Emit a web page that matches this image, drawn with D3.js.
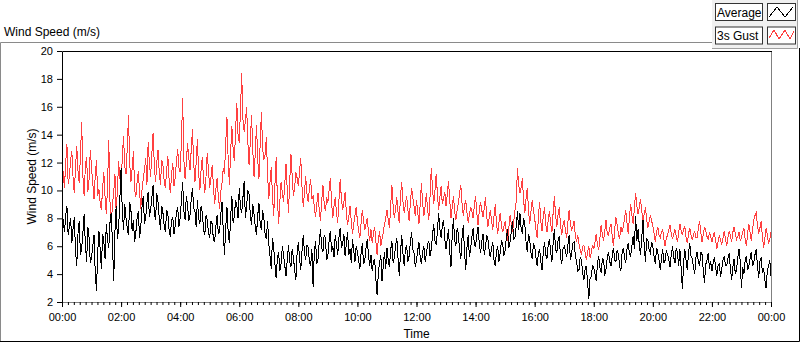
<!DOCTYPE html>
<html>
<head>
<meta charset="utf-8">
<script src="https://cdn.jsdelivr.net/npm/d3@7"></script>
<style>
  body { margin: 0; background: #fff; }
  text { font-family: "Liberation Sans", Arial, sans-serif; fill: #000; }
</style>
</head>
<body>
<svg id="chart" width="800" height="342"></svg>
<script>
// samples every 2.5 minutes, 00:00 -> 00:00 next day (one row = 30 min)
const stepMinutes = 2.5;
const seriesNames = ["Average", "3s Gust"];
const seriesColors = ["#000000", "#ff4040"];
const yTicks = [2, 4, 6, 8, 10, 12, 14, 16, 18, 20];

const average = [
  8.6, 7.8, 7.0, 8.2, 8.9, 6.8, 7.4, 8.0, 6.2, 7.3, 8.1, 5.6,
  4.6, 6.9, 7.8, 5.4, 5.9, 7.0, 8.3, 6.1, 4.9, 7.4, 6.6, 4.8,
  5.2, 6.0, 6.8, 4.1, 2.8, 5.5, 7.1, 5.8, 4.4, 6.9, 6.3, 5.1,
  7.6, 6.4, 5.9, 7.7, 8.4, 6.2, 3.5, 7.0, 8.9, 6.5, 7.3, 9.4,
  11.6, 8.4, 7.2, 9.0, 8.0, 7.3, 6.8, 9.2, 8.6, 7.1, 7.9, 6.3,
  7.0, 8.0, 8.5, 6.6, 7.4, 8.8, 9.6, 7.6, 8.0, 9.1, 9.9, 8.1,
  8.6, 9.5, 10.4, 8.3, 7.9, 9.8, 9.2, 8.0, 7.2, 8.9, 8.4, 7.5,
  7.0, 8.6, 8.3, 7.2, 6.7, 7.9, 8.1, 6.9, 7.5, 8.4, 8.8, 7.4,
  8.0, 9.3, 10.6, 8.5, 7.9, 9.6, 9.0, 7.8, 8.2, 9.4, 10.2, 8.7,
  8.5, 7.4, 9.3, 8.0, 7.6, 8.9, 8.4, 7.2, 6.8, 8.2, 7.9, 7.0,
  6.6, 7.8, 7.6, 6.5, 6.3, 7.4, 8.2, 6.9, 7.0, 8.3, 9.2, 7.1,
  5.4, 7.3, 8.8, 7.0, 6.2, 8.0, 9.6, 7.7, 8.1, 9.3, 9.0, 8.0,
  10.2, 8.8, 8.4, 9.5, 10.7, 8.0, 8.9, 10.0, 9.7, 8.2, 7.5, 9.0,
  8.3, 7.4, 6.8, 8.2, 9.1, 7.6, 7.2, 8.6, 8.0, 6.9, 6.5, 7.8,
  6.2, 5.3, 4.4, 6.6, 5.9, 4.7, 3.7, 5.2, 5.6, 4.2, 4.8, 6.0,
  5.4, 4.6, 3.9, 5.0, 6.1, 4.9, 4.5, 5.8, 5.2, 4.3, 3.6, 5.5,
  6.3, 5.1, 4.3, 5.7, 6.8, 5.5, 5.0, 6.1, 5.9, 4.9, 4.6, 5.8,
  3.1, 5.6, 6.4, 4.7, 5.1, 6.3, 7.2, 5.9, 5.6, 6.8, 6.6, 5.0,
  5.3, 6.4, 7.1, 5.6, 6.0, 5.2, 6.8, 6.1, 5.4, 6.6, 7.3, 5.9,
  6.1, 6.9, 5.3, 6.2, 7.0, 5.4, 5.8, 4.8, 6.5, 5.7, 4.9, 6.0,
  5.6, 5.0, 4.4, 5.5, 6.2, 4.7, 5.0, 5.9, 6.5, 5.3, 4.6, 5.4,
  4.2, 4.9, 5.1, 3.6, 2.5, 4.1, 4.8, 5.4, 3.5, 4.6, 5.6, 4.4,
  5.9, 5.0, 4.5, 5.7, 6.4, 4.8, 5.2, 6.0, 6.6, 5.1, 3.9, 5.5,
  6.8, 5.5, 4.6, 5.8, 6.1, 4.9, 5.3, 6.3, 7.0, 5.8, 5.5, 4.5,
  5.0, 5.7, 6.3, 5.2, 4.7, 5.6, 6.0, 4.9, 5.4, 6.1, 6.4, 5.3,
  5.8, 6.8, 7.6, 6.4, 6.1, 7.1, 8.4, 7.2, 6.6, 7.5, 7.9, 6.5,
  5.8, 6.5, 7.2, 5.6, 4.5, 6.8, 8.0, 6.4, 6.0, 7.3, 6.9, 5.7,
  5.1, 6.6, 7.5, 5.6, 4.3, 5.9, 6.8, 5.2, 5.8, 6.7, 7.3, 6.1,
  6.0, 6.8, 7.4, 6.2, 5.5, 6.3, 6.9, 5.4, 5.9, 6.8, 6.5, 5.7,
  5.2, 5.9, 6.3, 5.0, 4.6, 5.6, 6.0, 4.9, 5.5, 6.4, 6.2, 5.3,
  5.7, 6.6, 7.2, 5.9, 6.3, 7.0, 7.8, 6.5, 6.6, 7.4, 8.5, 7.2,
  8.4, 7.3, 6.9, 8.0, 7.6, 6.3, 5.6, 6.9, 6.4, 5.5, 5.1, 6.2,
  6.0, 5.2, 4.6, 5.5, 5.8, 4.9, 4.3, 5.6, 6.3, 5.4, 5.1, 6.1,
  6.5, 5.6, 4.9, 6.2, 7.2, 5.8, 5.5, 6.4, 6.7, 5.2, 4.7, 5.8,
  6.0, 5.7, 5.2, 6.1, 6.8, 5.0, 5.5, 6.2, 6.3, 5.4, 4.9, 4.2,
  4.3, 5.2, 5.0, 4.1, 3.6, 4.4, 4.6, 3.4, 2.2, 3.7, 3.8, 4.6,
  4.5, 4.0, 3.5, 4.7, 5.3, 4.5, 4.1, 5.1, 5.0, 3.9, 4.4, 5.2,
  5.6, 4.9, 4.6, 5.3, 5.9, 5.0, 4.9, 5.7, 5.4, 4.6, 4.2, 5.5,
  5.9, 5.2, 4.8, 5.8, 6.2, 5.5, 5.3, 6.0, 6.7, 5.8, 8.2, 6.4,
  7.2, 6.1, 5.4, 6.6, 7.9, 6.0, 4.9, 6.5, 6.4, 5.7, 5.5, 6.3,
  6.0, 5.3, 4.7, 5.9, 5.6, 5.0, 4.3, 5.1, 5.8, 4.8, 5.0, 5.7,
  5.4, 5.0, 4.5, 5.4, 6.0, 5.2, 4.8, 5.9, 5.5, 4.6, 5.8, 4.4,
  2.9, 4.8, 5.8, 5.0, 4.3, 5.5, 6.2, 5.3, 5.1, 4.5, 4.0, 5.2,
  5.6, 4.9, 4.6, 5.6, 5.4, 4.2, 3.4, 4.7, 5.0, 5.5, 4.4, 4.9,
  4.2, 4.8, 5.2, 4.5, 3.9, 4.6, 4.8, 3.8, 4.4, 5.0, 5.3, 4.6,
  4.6, 5.1, 5.5, 4.4, 3.6, 4.5, 5.1, 4.0, 4.3, 5.2, 5.8, 4.9,
  3.0, 4.5, 4.0, 5.0, 5.3, 4.3, 4.6, 5.1, 5.6, 4.6, 4.8, 5.4,
  5.8, 4.6, 3.7, 4.9, 5.2, 4.1, 4.4, 3.6, 3.0, 4.2, 4.6, 5.0,
  3.9
];

const gust = [
  12.4, 11.2, 10.2, 12.0, 13.3, 10.5, 11.0, 12.2, 12.8, 10.9, 9.8, 11.7,
  13.2, 11.4, 10.5, 12.6, 14.9, 11.0, 9.6, 11.8, 12.4, 9.9, 10.8, 12.9,
  11.6, 10.5, 9.4, 11.0, 12.2, 9.6, 10.1, 9.1, 8.6, 10.2, 11.3, 9.5,
  8.3, 10.4, 13.6, 9.2, 7.6, 9.0, 9.8, 11.2, 8.4, 10.0, 12.1, 10.9,
  10.5, 12.4, 13.9, 11.7, 11.2, 13.0, 15.4, 12.0, 10.6, 11.6, 12.8, 10.1,
  9.5, 10.6, 11.4, 9.9, 8.7, 10.0, 10.8, 11.5, 12.3, 10.4, 13.5, 11.9,
  11.0, 12.6, 14.1, 11.8, 10.6, 12.0, 12.9, 11.3, 10.4, 12.2, 11.8, 10.7,
  10.2, 11.4, 12.5, 10.8, 9.8, 11.1, 12.0, 10.3, 10.9, 12.1, 13.0, 11.6,
  11.3, 13.5, 16.6, 12.2, 10.8, 12.0, 13.4, 12.3, 11.5, 12.9, 14.4, 11.9,
  10.6, 12.0, 13.7, 11.3, 10.0, 11.5, 12.4, 10.8, 9.8, 11.0, 12.7, 11.4,
  10.2, 10.9, 11.8, 10.4, 9.0, 10.1, 10.9, 9.6, 8.7, 9.9, 10.5, 11.6,
  11.2, 13.4, 15.3, 12.2, 10.4, 12.8, 14.6, 13.0, 12.1, 14.2, 16.3, 14.0,
  13.4, 15.8, 18.4, 15.1, 14.2, 15.0, 16.0, 13.5, 11.8, 13.6, 15.4, 12.9,
  11.0, 12.6, 14.7, 12.3, 10.8, 13.4, 15.6, 13.0, 12.2, 12.6, 13.8, 11.2,
  9.4, 10.6, 11.7, 9.6, 8.2, 10.4, 12.4, 9.4, 7.6, 9.2, 10.6, 9.8,
  9.2, 10.5, 11.9, 10.0, 8.4, 10.6, 12.6, 11.0, 9.6, 10.2, 11.3, 10.9,
  10.3, 11.4, 12.3, 10.2, 8.8, 9.9, 11.0, 9.8, 9.2, 10.1, 10.8, 9.4,
  9.6, 8.8, 8.1, 9.0, 9.8, 8.6, 7.8, 9.3, 10.4, 9.1, 8.5, 9.5,
  9.1, 10.0, 10.9, 9.2, 8.0, 8.9, 9.5, 8.4, 7.7, 9.3, 10.8, 9.4,
  8.6, 9.2, 9.9, 8.4, 7.5, 8.1, 8.9, 7.8, 6.9, 7.6, 8.2, 8.8,
  7.8, 7.1, 6.6, 7.7, 8.6, 7.8, 7.2, 7.6, 8.0, 7.0, 6.4, 7.2,
  6.2, 6.9, 7.4, 6.3, 5.4, 6.5, 7.1, 6.0, 6.5, 7.0, 7.6, 8.0,
  8.6, 7.9, 7.3, 8.8, 10.4, 8.9, 8.0, 8.7, 9.5, 8.4, 7.7, 9.6,
  10.6, 9.2, 8.4, 9.0, 9.6, 8.6, 7.8, 9.1, 10.2, 9.5, 8.9, 8.2,
  9.3, 8.4, 7.6, 9.0, 10.5, 9.1, 8.2, 8.9, 9.8, 8.6, 7.9, 9.6,
  11.6, 10.2, 9.0, 10.0, 11.2, 9.7, 8.6, 9.5, 10.3, 9.0, 9.4, 9.9,
  8.9, 9.7, 10.7, 9.3, 8.0, 8.8, 9.6, 8.5, 7.9, 8.6, 9.1, 9.8,
  10.4, 9.1, 8.2, 8.9, 9.3, 8.4, 7.7, 8.3, 8.8, 8.5, 8.0, 8.9,
  9.6, 8.4, 7.5, 8.5, 9.2, 8.6, 8.1, 8.7, 9.5, 8.2, 7.4, 8.0,
  8.6, 7.8, 7.2, 8.2, 9.0, 7.6, 6.9, 7.7, 8.4, 7.5, 7.0, 7.4,
  7.8, 7.0, 6.4, 7.3, 8.2, 7.6, 7.0, 7.8, 8.6, 9.2, 11.6, 10.4,
  9.8, 10.2, 10.9, 9.3, 8.4, 9.4, 10.2, 8.6, 7.6, 8.5, 9.3, 8.6,
  8.0, 7.2, 6.6, 8.0, 9.2, 7.8, 7.1, 8.2, 8.8, 7.6, 7.0, 7.9,
  8.5, 7.6, 7.0, 8.4, 9.6, 8.2, 7.4, 8.3, 8.8, 7.5, 6.8, 7.5,
  7.9, 7.1, 6.6, 7.7, 8.6, 7.6, 7.2, 7.4, 7.8, 6.8, 6.3, 6.8,
  6.2, 5.7, 5.4, 6.0, 6.1, 5.5, 5.0, 5.6, 6.0, 5.2, 5.5, 6.1,
  5.8, 6.3, 6.9, 6.1, 5.7, 6.6, 7.5, 6.8, 6.4, 7.1, 7.9, 6.9,
  6.8, 7.3, 7.6, 6.7, 6.0, 7.2, 8.1, 7.5, 6.9, 6.5, 7.4, 7.0,
  7.4, 8.0, 8.6, 7.7, 6.9, 8.1, 9.0, 8.2, 7.6, 8.7, 9.8, 8.9,
  8.3, 8.8, 9.4, 8.5, 7.8, 8.3, 8.8, 7.9, 7.3, 7.8, 8.2, 7.8,
  7.5, 6.9, 6.3, 7.0, 7.4, 6.8, 6.6, 7.0, 7.2, 6.5, 6.0, 6.6,
  6.8, 7.2, 7.5, 6.9, 6.5, 6.9, 7.2, 6.7, 6.3, 7.0, 7.6, 7.1,
  6.8, 7.2, 7.4, 6.6, 6.2, 6.9, 7.3, 6.8, 6.5, 6.8, 7.1, 6.6,
  6.6, 7.3, 7.8, 7.0, 6.3, 6.9, 7.4, 7.1, 6.7, 6.5, 7.0, 6.7,
  6.3, 6.7, 7.0, 6.4, 5.8, 6.3, 6.8, 6.4, 6.1, 6.6, 7.1, 6.5,
  6.0, 6.6, 7.1, 6.8, 6.3, 7.0, 7.4, 6.9, 6.5, 6.7, 7.0, 6.4,
  6.6, 7.0, 7.3, 6.5, 6.0, 6.9, 7.6, 7.0, 6.4, 7.2, 7.9, 8.2,
  8.4, 7.5, 6.9, 7.3, 7.8, 6.7, 5.9, 6.6, 7.3, 6.8, 6.2, 6.5,
  7.0
];

const svg = d3.select('#chart');
const start = new Date(2000, 0, 1, 0, 0);
const end = new Date(2000, 0, 2, 0, 0);
const plot = { left: 62, right: 771, top: 51, bottom: 302 };

const x = d3.scaleTime().domain([start, end]).range([plot.left, plot.right]);
const y = d3.scaleLinear().domain([2, 20]).range([plot.bottom, plot.top]);
const timeAt = i => new Date(start.getTime() + i * stepMinutes * 60000);

// outer frame of the graph control
svg.append('rect').attr('x', 0).attr('y', 0).attr('width', 800).attr('height', 342).attr('fill', '#fff');
svg.append('path').attr('d', 'M0.5,341 V42.5 H712').attr('fill', 'none').attr('stroke', '#8a8a8a');
svg.append('path').attr('d', 'M0,341.5 H799.5 V48').attr('fill', 'none').attr('stroke', '#000');

svg.append('text')
  .attr('x', 4).attr('y', 36)
  .style('font-size', '12px')
  .text('Wind Speed (m/s)');

// data
svg.append('clipPath').attr('id', 'plotclip')
  .append('rect')
  .attr('x', plot.left + 1).attr('y', plot.top + 1)
  .attr('width', plot.right - plot.left - 1).attr('height', plot.bottom - plot.top - 1);

const line = d3.line()
  .x((d, i) => x(timeAt(i)))
  .y(d => y(d));

const dataG = svg.append('g').attr('clip-path', 'url(#plotclip)');
// gust first so the average sits on top
[[gust, seriesColors[1]], [average, seriesColors[0]]].forEach(([s, c]) => {
  dataG.append('path')
    .datum(s)
    .attr('fill', 'none')
    .attr('stroke', c)
    .attr('stroke-width', 1)
    .attr('shape-rendering', 'crispEdges')
    .attr('d', line);
});

// plot border
svg.append('path').attr('d', `M${plot.left + 0.5},${plot.bottom + 1} V${plot.top + 0.5} H${plot.right + 1}`)
  .attr('fill', 'none').attr('stroke', '#000');
svg.append('path').attr('d', `M${plot.right + 0.5},${plot.top + 1} V${plot.bottom + 0.5} H${plot.left}`)
  .attr('fill', 'none').attr('stroke', '#808080');

// y axis
const yAxis = svg.append('g')
  .attr('transform', `translate(${plot.left},0)`)
  .call(d3.axisLeft(y).tickValues(yTicks).tickSize(5).tickPadding(4));
yAxis.select('.domain').remove();
yAxis.selectAll('text').style('font-size', '11px').attr('fill', '#000');

svg.append('text')
  .attr('transform', `translate(32,${(plot.top + plot.bottom) / 2}) rotate(-90)`)
  .attr('text-anchor', 'middle')
  .attr('dominant-baseline', 'central')
  .style('font-size', '12px')
  .text('Wind Speed (m/s)');

// x axis: minor ticks then labelled major ticks
const xMinor = svg.append('g')
  .attr('transform', `translate(0,${plot.bottom})`)
  .call(d3.axisBottom(x).ticks(d3.timeMinute.every(12)).tickSize(3).tickFormat(''));
xMinor.select('.domain').remove();

const xAxis = svg.append('g')
  .attr('transform', `translate(0,${plot.bottom})`)
  .call(d3.axisBottom(x).ticks(d3.timeHour.every(2)).tickSize(5).tickPadding(6)
    .tickFormat(d3.timeFormat('%H:%M')));
xAxis.select('.domain').remove();
xAxis.selectAll('text').style('font-size', '11px').attr('fill', '#000');

svg.append('text')
  .attr('x', (plot.left + plot.right) / 2).attr('y', 338)
  .attr('text-anchor', 'middle')
  .style('font-size', '12px')
  .text('Time');

// legend
const legend = svg.append('g');
legend.append('rect').attr('x', 712).attr('y', 0).attr('width', 86).attr('height', 48).attr('fill', '#f0f0f0');
legend.append('path').attr('d', 'M712,48.5 H797.5 V0').attr('fill', 'none').attr('stroke', '#a0a0a0');

const swatchPts = [
  [[769, 17], [777, 7], [785, 17], [793, 7]],
  [[769, 38], [774, 30], [779, 39], [785, 30], [790, 39], [794, 31]]
];
seriesNames.forEach((name, i) => {
  const top = 3.5 + i * 23.5;
  legend.append('rect').attr('x', 715.5).attr('y', top).attr('width', 47).attr('height', 17)
    .attr('fill', '#fff').attr('stroke', '#333');
  legend.append('text').attr('x', 717).attr('y', top + 13)
    .style('font-size', '12px').text(name);
  legend.append('rect').attr('x', 767.5).attr('y', top).attr('width', 28).attr('height', 17)
    .attr('fill', '#fff').attr('stroke', '#333');
  legend.append('path')
    .attr('d', d3.line()(swatchPts[i]))
    .attr('fill', 'none')
    .attr('stroke', seriesColors[i])
    .attr('shape-rendering', 'crispEdges');
});
</script>
</body>
</html>
